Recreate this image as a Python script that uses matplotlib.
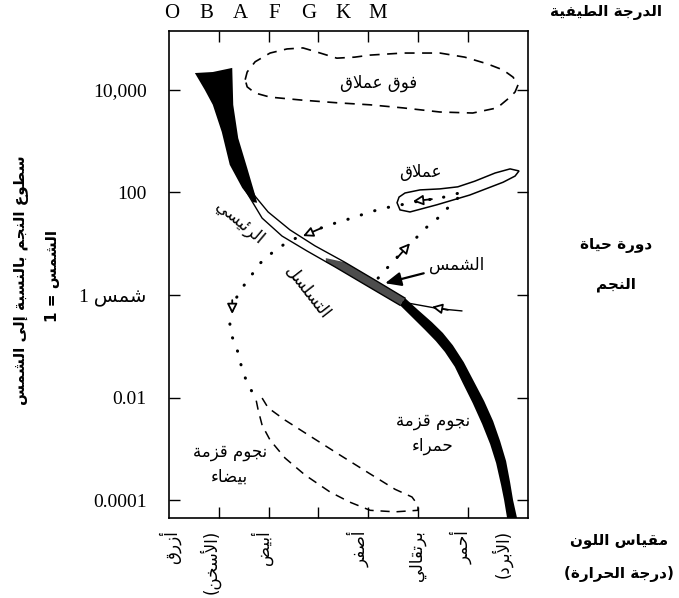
import numpy as np
import matplotlib
matplotlib.use('Agg')
import matplotlib.pyplot as plt
import matplotlib.transforms as mtransforms
from matplotlib.ticker import NullLocator

# --- minimal Arabic shaping (presentation forms + right-to-left order) ---
ARABIC = 'ءآأؤإئابةتثجحخدذرزسشصضطظعغفقكلمنهوىي'
NFORMS = [1, 2, 2, 2, 2, 4, 2, 4, 2, 4, 4, 4, 4, 4, 2, 2, 2, 2,
          4, 4, 4, 4, 4, 4, 4, 4, 4, 4, 4, 4, 4, 4, 4, 2, 2, 4]
FORMS = {}
cp = 0xFE80
for ch, n in zip(ARABIC, NFORMS):
    FORMS[ch] = [chr(cp + k) for k in range(n)]
    cp += n
LAMALEF = {'آ': 0xFEF5, 'أ': 0xFEF7, 'إ': 0xFEF9, 'ا': 0xFEFB}


def _line(text):
    units = []
    i = 0
    while i < len(text):
        c = text[i]
        if c == 'ل' and i + 1 < len(text) and text[i + 1] in LAMALEF:
            units.append(('la', text[i + 1]))
            i += 2
        else:
            units.append(c)
            i += 1

    def joining(u):
        return isinstance(u, tuple) or (u in FORMS and len(FORMS[u]) > 1)

    def dual(u):
        return (not isinstance(u, tuple)) and u in FORMS and len(FORMS[u]) == 4

    out = []
    for k, u in enumerate(units):
        prev = units[k - 1] if k > 0 else None
        nxt = units[k + 1] if k + 1 < len(units) else None
        jp = prev is not None and dual(prev) and joining(u)
        jn = dual(u) and nxt is not None and joining(nxt)
        if isinstance(u, tuple):
            out.append(chr(LAMALEF[u[1]] + (1 if jp else 0)))
        elif u in FORMS:
            f = FORMS[u]
            if len(f) == 1:
                out.append(f[0])
            elif len(f) == 2:
                out.append(f[1] if jp else f[0])
            else:
                out.append(f[(1 if jp else 0) + (2 if jn else 0)])
        else:
            out.append(u)
    return ''.join(out)[::-1].translate(str.maketrans('()', ')('))


def ar(text):
    return '\n'.join(_line(t) for t in text.split('\n'))


# --- data (x: colour position, y: log10 luminosity in suns) ---
spectral = ['O', 'B', 'A', 'F', 'G', 'K', 'M']
colour_names = ['أزرق', '(الأسخن)', 'أبيض', 'أصفر', 'برتقالي', 'أحمر', '(الأبرد)']
colour_pos = [0.02, 0.82, 1.87, 3.80, 4.98, 5.88, 6.69]
ytick_vals = [-4, -2, 0, 2, 4]
ytick_labels = ['0.0001', '0.01', '1 ' + ar('شمس'), '100', '10,000']

wedge_x = [0.52, 0.88, 1.27, 1.29, 1.39, 1.57, 1.73, 1.77, 1.69, 1.47, 1.22, 1.06, 0.88, 0.72]
wedge_y = [4.33, 4.35, 4.43, 3.71, 3.06, 2.48, 1.95, 1.80, 1.81, 2.09, 2.54, 3.18, 3.71, 4.00]

band_up_x = [1.63, 1.71, 1.99, 2.43, 2.93, 3.53, 4.14, 4.74]
band_up_y = [2.15, 1.95, 1.62, 1.27, 0.96, 0.64, 0.29, -0.06]
band_lo_x = [1.53, 1.87, 2.27, 2.77, 3.33, 3.94, 4.64]
band_lo_y = [2.05, 1.50, 1.15, 0.86, 0.55, 0.20, -0.20]

stipple_x = [3.15, 3.53, 4.14, 4.74, 4.64, 3.94, 3.33, 3.15]
stipple_y = [0.72, 0.64, 0.29, -0.06, -0.20, 0.20, 0.55, 0.64]

dwarf_left_x = [4.64, 4.88, 5.14, 5.36, 5.54, 5.74, 5.90, 6.10, 6.29, 6.45, 6.57,
                6.67, 6.73, 6.79]
dwarf_left_y = [-0.20, -0.43, -0.68, -0.90, -1.11, -1.40, -1.72, -2.11, -2.52,
                -2.91, -3.28, -3.71, -4.00, -4.35]
dwarf_right_x = [4.74, 5.00, 5.28, 5.50, 5.70, 5.92, 6.12, 6.33, 6.51, 6.65, 6.77,
                 6.85, 6.91, 6.99]
dwarf_right_y = [-0.06, -0.29, -0.53, -0.74, -0.98, -1.31, -1.68, -2.07, -2.46,
                 -2.85, -3.24, -3.65, -4.00, -4.35]

super_x = [1.53, 1.57, 1.73, 2.03, 2.37, 2.69, 2.97, 3.37, 3.73, 4.04, 4.70, 5.44,
           5.94, 6.39, 6.71, 6.91, 7.01, 6.95, 6.85, 6.59, 6.10, 5.44, 4.70, 4.04,
           3.37, 2.69, 2.03, 1.73, 1.57, 1.53]
super_y = [4.20, 4.35, 4.55, 4.72, 4.80, 4.82, 4.74, 4.62, 4.64, 4.68, 4.72, 4.72,
           4.64, 4.51, 4.39, 4.25, 4.10, 3.96, 3.86, 3.65, 3.55, 3.57, 3.65, 3.71,
           3.75, 3.80, 3.86, 3.94, 4.06, 4.20]

giant_x = [4.58, 4.64, 4.84, 5.38, 6.04, 6.71, 6.95, 7.03, 6.85, 6.55, 6.14, 5.80,
           5.44, 5.04, 4.74, 4.62]
giant_y = [1.80, 1.66, 1.62, 1.76, 1.95, 2.20, 2.32, 2.42, 2.46, 2.38, 2.22, 2.11,
           2.07, 2.05, 1.99, 1.91]

track_x = [4.20, 4.44, 4.68, 4.92, 5.16, 5.40, 5.60, 5.80, 5.90, 5.68, 5.44, 5.14,
           4.84, 4.58, 4.34, 4.04, 3.67, 3.23, 2.89, 2.63, 2.33, 2.09, 1.83, 1.63,
           1.47, 1.35, 1.27, 1.22, 1.27, 1.37, 1.43, 1.49, 1.57, 1.67, 1.79]
track_y = [0.33, 0.59, 0.84, 1.07, 1.31, 1.50, 1.70, 1.89, 2.01, 1.95, 1.89, 1.85,
           1.80, 1.74, 1.70, 1.62, 1.50, 1.37, 1.25, 1.15, 1.00, 0.84, 0.62, 0.35,
           0.14, -0.06, -0.29, -0.55, -0.82, -1.07, -1.31, -1.50, -1.72, -1.89, -1.99]

wd_x = [1.87, 1.99, 2.33, 2.83, 3.43, 4.04, 4.54, 4.88, 5.00, 5.00,
        4.54, 4.04, 3.63, 3.23, 2.73, 2.33, 2.03, 1.87, 1.79, 1.75]
wd_y = [-2.01, -2.20, -2.44, -2.75, -3.12, -3.49, -3.79, -3.94, -4.10, -4.20,
        -4.23, -4.20, -4.04, -3.84, -3.51, -3.18, -2.83, -2.54, -2.24, -2.05]

sun_path_x = [4.70, 5.44, 5.88]
sun_path_y = [-0.14, -0.27, -0.31]
sun_x, sun_y = 4.34, 0.23

arrow_tail_x = [4.58, 5.28, 3.07, 1.27, 5.60]
arrow_tail_y = [0.72, 1.87, 1.31, -0.10, -0.29]
arrow_tip_x = [4.84, 4.90, 2.69, 1.27, 5.28]
arrow_tip_y = [1.01, 1.83, 1.15, -0.37, -0.23]

# --- figure ---
fig = plt.figure(figsize=(6.79, 5.98), dpi=100)
ax = fig.add_axes([169 / 679, 1 - 518 / 598, 359 / 679, 487 / 598])
ax.set_yscale('log')
ax.set_xlim(0, 7.21)
ax.set_ylim(10 ** -4.35, 10 ** 5.15)

L = lambda v: 10.0 ** np.asarray(v)

ax.fill(wedge_x, L(wedge_y), color='black', lw=0)
ax.fill(stipple_x, L(stipple_y), color='0.3', lw=0)
ax.plot(band_up_x, L(band_up_y), color='black', lw=1.0)
ax.plot(band_lo_x, L(band_lo_y), color='black', lw=1.0)
ax.fill(dwarf_left_x + dwarf_right_x[::-1], L(dwarf_left_y + dwarf_right_y[::-1]),
        color='black', lw=0)

ax.plot(super_x, L(super_y), color='black', lw=1.2, ls=(0, (6, 4.5)))
ax.fill(giant_x, L(giant_y), facecolor='white', edgecolor='black', lw=1.1)
ax.plot(wd_x, L(wd_y), color='black', lw=1.1, ls=(0, (6, 4.5)))

ax.plot(track_x, L(track_y), color='black', lw=2.2, ls=(0, (0.1, 4.5)),
        dash_capstyle='round')
ax.plot(sun_path_x, L(sun_path_y), color='black', lw=1.0)

for tx, ty, hx, hy in zip(arrow_tail_x, arrow_tail_y, arrow_tip_x, arrow_tip_y):
    ax.annotate('', xy=(hx, 10 ** hy), xytext=(tx, 10 ** ty),
                arrowprops=dict(arrowstyle='-|>,head_length=0.6,head_width=0.3',
                                fc='white', ec='black', lw=1.3,
                                shrinkA=0, shrinkB=0))

ax.annotate(ar('الشمس'), xy=(sun_x, 10 ** sun_y), xytext=(5.78, 10 ** 0.59),
            ha='center', va='center', fontsize=12, family='DejaVu Sans',
            arrowprops=dict(arrowstyle='-|>,head_length=0.8,head_width=0.35',
                            fc='black', ec='black', lw=1.6, shrinkA=2, shrinkB=0))

arabic = dict(family='DejaVu Sans', fontsize=12, ha='center', va='center')
ax.text(4.20, 10 ** 4.14, ar('فوق عملاق'), **arabic)
ax.text(5.04, 10 ** 2.40, ar('عملاق'), **arabic)
ax.text(1.43, 10 ** 1.42, ar('الرئيسي'), rotation=-40, **arabic)
ax.text(2.79, 10 ** 0.06, ar('التسلسل'), rotation=-52, **arabic)
ax.text(1.22, 10 ** -3.30, ar('نجوم قزمة\nبيضاء'), linespacing=1.5, **arabic)
ax.text(5.30, 10 ** -2.70, ar('نجوم قزمة\nحمراء'), linespacing=1.5, **arabic)

# axes styling
ax.set_xticks(range(1, 7))
ax.set_xticklabels([])
ax.set_yticks(L(ytick_vals))
ax.set_yticklabels(ytick_labels)
ax.yaxis.set_minor_locator(NullLocator())
ax.tick_params(which='both', direction='in', top=True, right=True,
               length=8, width=1.0, pad=16)
for lab in ax.get_yticklabels():
    lab.set_family(['Liberation Serif', 'DejaVu Sans'])
    lab.set_fontsize(14)
for s in ax.spines.values():
    s.set_linewidth(1.2)

trans = mtransforms.blended_transform_factory(ax.transData, ax.transAxes)
for name, xp in zip(colour_names, colour_pos):
    ax.text(xp, -0.025, ar(name), transform=trans, rotation=90, ha='center',
            va='top', family='DejaVu Sans', fontsize=12)

for i, s in enumerate(spectral):
    fig.text((172 + 34.2 * i) / 679, 1 - 13 / 598, s, ha='center', va='center',
             family='Liberation Serif', fontsize=15)

bold = dict(family='DejaVu Sans', fontweight='bold', fontsize=11,
            ha='center', va='center')
fig.text(606 / 679, 1 - 13 / 598, ar('الدرجة الطيفية'), **bold)
fig.text(616 / 679, 1 - 246 / 598, ar('دورة حياة'), **bold)
fig.text(616 / 679, 1 - 285 / 598, ar('النجم'), **bold)
fig.text(619 / 679, 1 - 540 / 598, ar('مقياس اللون'), **bold)
fig.text(619 / 679, 1 - 574 / 598, ar('(درجة الحرارة)'), **bold)
fig.text(22 / 679, 1 - 280 / 598, ar('سطوع النجم بالنسبة إلى الشمس'),
         rotation=90, **bold)
fig.text(52 / 679, 1 - 276 / 598, ar('الشمس = 1'), rotation=90, **bold)

fig.savefig('out.png', dpi=100)
